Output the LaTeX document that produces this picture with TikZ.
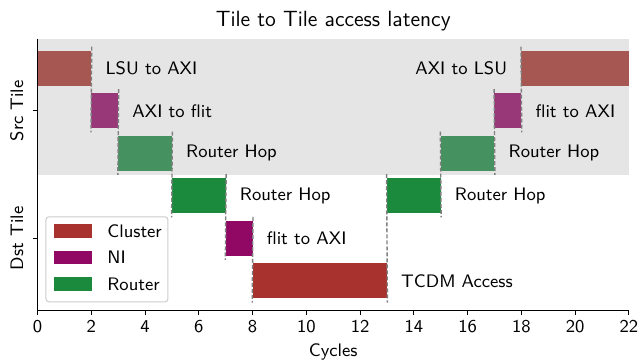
\documentclass[tikz,border=0pt]{standalone}
\usetikzlibrary{positioning}
\definecolor{cluster}{RGB}{168,50,46}
\definecolor{ni}{RGB}{145,8,100}
\definecolor{router}{RGB}{27,138,60}
\definecolor{clsrc}{RGB}{166,87,82}
\definecolor{nisrc}{RGB}{153,56,120}
\definecolor{rtsrc}{RGB}{69,145,95}
\definecolor{srcbg}{RGB}{229,229,229}
\begin{document}
\begin{tikzpicture}[x=13.43pt,y=21.25pt,font=\sffamily\fontsize{9.05}{11}\selectfont]
  \tikzset{bar/.style={rectangle,inner sep=0pt,minimum height=17.4pt,minimum width=#1*13.43pt},
    lbl/.style={inner sep=0pt},
    sep/.style={draw=gray,dash pattern=on 2pt off 1pt,line width=0.7pt},
    patch/.style={rectangle,inner sep=0pt,minimum height=6.7pt,minimum width=19.3pt},
    axis/.style={line width=0.55pt}}
  \useasboundingbox (-1.4,-1.212) rectangle (22.34,7.306);
  \fill[srcbg] (0,3.2) rectangle (22,6.4);
  \node[bar=2,fill=clsrc] (lsu) at (1,5.7) {};
  \node[bar=1,fill=nisrc] (axiflit) at (2.5,4.7) {};
  \node[bar=2,fill=rtsrc] (hopsrc) at (4,3.7) {};
  \node[bar=2,fill=router] (hopdst) at (6,2.7) {};
  \node[bar=1,fill=ni] (flitaxi) at (7.5,1.7) {};
  \node[bar=5,fill=cluster] (tcdm) at (10.5,0.7) {};
  \node[bar=2,fill=router] (hopdstb) at (14,2.7) {};
  \node[bar=2,fill=rtsrc] (hopsrcb) at (16,3.7) {};
  \node[bar=1,fill=nisrc] (flitaxib) at (17.5,4.7) {};
  \node[bar=4,fill=clsrc] (axilsu) at (20,5.7) {};
  \node[lbl,right=6.7pt of lsu] (llsu) {LSU to AXI};
  \node[lbl,right=6.7pt of axiflit] (laxiflit) {AXI to flit};
  \node[lbl,right=6.7pt of hopsrc] (lhopsrc) {Router Hop};
  \node[lbl,right=6.7pt of hopdst] (lhopdst) {Router Hop};
  \node[lbl,right=6.7pt of flitaxi] (lflitaxi) {flit to AXI};
  \node[lbl,right=6.7pt of tcdm] (ltcdm) {TCDM Access};
  \node[lbl,right=6.7pt of hopdstb] (lhopdstb) {Router Hop};
  \node[lbl,right=6.7pt of hopsrcb] (lhopsrcb) {Router Hop};
  \node[lbl,right=6.7pt of flitaxib] (lflitaxib) {flit to AXI};
  \node[lbl,left=6.7pt of axilsu] (laxilsu) {AXI to LSU};
  \draw[sep] ([yshift=1.9pt]lsu.north east) -- ([yshift=-1.9pt]axiflit.south west);
  \draw[sep] ([yshift=1.9pt]axiflit.north east) -- ([yshift=-1.9pt]hopsrc.south west);
  \draw[sep] ([yshift=1.9pt]hopsrc.north east) -- ([yshift=-1.9pt]hopdst.south west);
  \draw[sep] ([yshift=1.9pt]hopdst.north east) -- ([yshift=-1.9pt]flitaxi.south west);
  \draw[sep] ([yshift=1.9pt]flitaxi.north east) -- ([yshift=-1.9pt]tcdm.south west);
  \draw[sep] ([yshift=1.9pt]hopdstb.north west) -- ([yshift=-1.9pt]tcdm.south east);
  \draw[sep] ([yshift=1.9pt]hopsrcb.north west) -- ([yshift=-1.9pt]hopdstb.south east);
  \draw[sep] ([yshift=1.9pt]flitaxib.north west) -- ([yshift=-1.9pt]hopsrcb.south east);
  \draw[sep] ([yshift=1.9pt]axilsu.north west) -- ([yshift=-1.9pt]flitaxib.south east);
  \draw[axis] (0,6.4) -- (0,0) -- (22,0);
  \foreach \x in {0,2,...,22}
    \draw[axis] (\x,0) -- ++(0,-2.4pt) node[anchor=north,inner sep=0pt,yshift=-2.2pt] (t\x) {\x};
  \draw[axis] (0,4.7) -- ++(-2.4pt,0);
  \draw[axis] (0,1.7) -- ++(-2.4pt,0);
  \node[rotate=90,inner sep=0pt] (src) at (-0.77,4.7) {Src Tile};
  \node[rotate=90,inner sep=0pt] (dst) at (-0.77,1.7) {Dst Tile};
  \node[inner sep=0pt] (xlabel) at (11,-0.976) {Cycles};
  \node[inner sep=0pt,font=\sffamily\fontsize{11}{13}\selectfont] (title) at (11,6.81) {Tile to Tile access latency};
  \draw[rounded corners=1.5pt,draw=black!20,fill=white,fill opacity=0.8,line width=0.5pt] (0.31,0.207) rectangle (4.85,2.207);
  \node[patch,fill=cluster] (kcl) at (1.32,1.87) {};
  \node[patch,fill=ni] (kni) at (1.32,1.247) {};
  \node[patch,fill=router] (krt) at (1.32,0.624) {};
  \node[lbl,right=7.1pt of kcl] (lkcl) {Cluster};
  \node[lbl,right=7.1pt of kni] (lkni) {NI};
  \node[lbl,right=7.1pt of krt] (lkrt) {Router};
\end{tikzpicture}
\end{document}
